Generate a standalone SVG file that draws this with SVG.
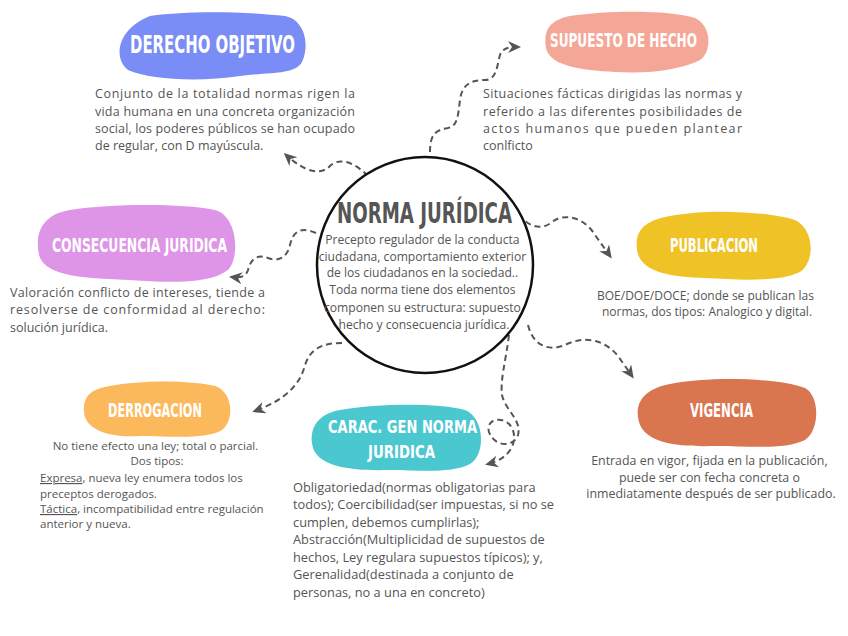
<svg xmlns="http://www.w3.org/2000/svg" width="848" height="636" viewBox="0 0 848 636">
<style>
.title{font-family:"DejaVu Sans Condensed","DejaVu Sans",sans-serif;font-weight:bold;fill:#fff;}
.body{font-family:"Open Sans","Noto Sans",sans-serif;font-size:12.5px;fill:#555;}
.c{text-anchor:middle;}
.conn{fill:none;stroke:#555;stroke-width:2;stroke-dasharray:6 4;marker-end:url(#arr);}
</style>
<defs>
<marker id="arr" markerUnits="userSpaceOnUse" markerWidth="16" markerHeight="14" refX="10" refY="6" orient="auto">
<path d="M0,0 L13,6 L0,12 L4,6 Z" fill="#555"/>
</marker>
</defs>
<rect width="848" height="636" fill="#fff"/>

<g id="connectors">
<path class="conn" d="M 368 176 C 352 160, 338 158, 330 166 C 320 176, 305 172, 286 155"/>
<path class="conn" d="M 430 152 C 430 135, 435 130, 448 128 C 458 126, 458 115, 460 100 C 462 85, 470 80, 485 80 C 497 80, 497 65, 500 55 C 503 48, 508 47, 518 47"/>
<path class="conn" d="M 316 233 C 300 226, 293 232, 290 245 C 287 258, 278 262, 268 258 C 255 253, 250 262, 248 270 C 246 277, 240 278, 232 277"/>
<path class="conn" d="M 518 215 C 528 225, 540 232, 552 222 C 565 212, 585 218, 595 235 L 610 256"/>
<path class="conn" d="M 528 325 C 533 345, 548 352, 565 345 C 585 335, 605 340, 618 356 L 632 376"/>
<path class="conn" d="M 342 343 C 320 343, 310 350, 305 365 C 300 385, 285 400, 255 411"/>
<path class="conn" d="M 509 335 C 506 360, 500 380, 502 395 C 505 410, 522 420, 518 435 C 514 447, 495 448, 489 432 C 485 418, 505 415, 512 428 C 518 440, 512 458, 488 464"/>
</g>

<g id="norma-juridica">
<circle cx="425" cy="265" r="108" fill="#fff" stroke="#111" stroke-width="2.5"/>
<text class="title" x="337" y="223" font-size="29" textLength="175" lengthAdjust="spacingAndGlyphs" style="fill:#555">NORMA JURÍDICA</text>
<text class="body c" style="font-size:12.1px">
<tspan x="424" y="244">Precepto regulador de la conducta</tspan>
<tspan x="424" y="261">ciudadana, comportamiento exterior</tspan>
<tspan x="424" y="277">de los ciudadanos en la sociedad..</tspan>
<tspan x="424" y="294">Toda norma tiene dos elementos</tspan>
<tspan x="424" y="312">componen su estructura: supuesto</tspan>
<tspan x="424" y="329">hecho y consecuencia jurídica.</tspan>
</text>
</g>

<g id="derecho-objetivo">
<path d="M 150 16 C 190 10, 250 12, 285 16 C 305 20, 310 45, 302 62 C 295 75, 270 72, 240 76 C 200 82, 150 80, 128 70 C 114 60, 115 30, 150 16 Z" fill="#7a8cf6"/>
<text class="title" x="130" y="53" font-size="24" textLength="165" lengthAdjust="spacingAndGlyphs">DERECHO OBJETIVO</text>
<text class="body" x="95" y="98" textLength="260">Conjunto de la totalidad normas rigen la</text>
<text class="body" x="95" y="116" textLength="260">vida humana en una concreta organización</text>
<text class="body" x="95" y="133" textLength="260">social, los poderes públicos se han ocupado</text>
<text class="body" x="95" y="150">de regular, con D mayúscula.</text>
</g>

<g id="supuesto-de-hecho">
<path d="M 570 16 C 610 10, 670 10, 695 18 C 712 26, 712 52, 700 60 C 680 70, 650 74, 615 72 C 580 70, 550 66, 546 48 C 543 30, 550 20, 570 16 Z" fill="#f4a796"/>
<text class="title" x="550" y="47" font-size="19" textLength="147" lengthAdjust="spacingAndGlyphs">SUPUESTO DE HECHO</text>
<text class="body" x="483" y="98" textLength="259">Situaciones fácticas dirigidas las normas y</text>
<text class="body" x="483" y="116" textLength="259">referido a las diferentes posibilidades de</text>
<text class="body" x="483" y="133" textLength="259">actos humanos que pueden plantear</text>
<text class="body" x="483" y="150">conlficto</text>
</g>

<g id="consecuencia-juridica">
<path d="M 70 210 C 110 204, 180 203, 215 210 C 238 216, 240 258, 228 270 C 210 284, 170 283, 130 280 C 90 278, 45 278, 39 255 C 34 230, 45 214, 70 210 Z" fill="#de95e8"/>
<text class="title" x="52" y="252" font-size="20" textLength="175" lengthAdjust="spacingAndGlyphs">CONSECUENCIA JURIDICA</text>
<text class="body" x="10" y="297" textLength="255">Valoración conflicto de intereses, tiende a</text>
<text class="body" x="10" y="314" textLength="255">resolverse de conformidad al derecho:</text>
<text class="body" x="10" y="332">solución jurídica.</text>
</g>

<g id="publicacion">
<path d="M 670 216 C 710 208, 770 212, 795 220 C 815 230, 815 262, 800 272 C 780 282, 740 280, 705 278 C 670 277, 640 272, 637 250 C 634 228, 648 220, 670 216 Z" fill="#efc326"/>
<text class="title" x="670" y="252" font-size="20" textLength="88" lengthAdjust="spacingAndGlyphs">PUBLICACION</text>
<text class="body c" style="font-size:12px">
<tspan x="707" y="300">BOE/DOE/DOCE; donde se publican las</tspan>
<tspan x="707" y="316">normas, dos tipos: Analogico y digital.</tspan>
</text>
</g>

<g id="derrogacion">
<path d="M 110 386 C 140 380, 190 380, 215 386 C 233 392, 235 420, 222 430 C 205 440, 170 436, 140 436 C 110 438, 85 430, 84 412 C 83 395, 92 389, 110 386 Z" fill="#fcb95b"/>
<text class="title" x="108" y="417" font-size="20" textLength="94" lengthAdjust="spacingAndGlyphs">DERROGACION</text>
<text class="body c" style="font-size:11.5px">
<tspan x="157" y="450">No tiene efecto una ley; total o parcial.</tspan>
<tspan x="157" y="465">Dos tipos:</tspan>
</text>
<text class="body" style="font-size:11.5px">
<tspan x="40" y="482"><tspan text-decoration="underline">Expresa</tspan>, nueva ley enumera todos los</tspan>
<tspan x="40" y="498">preceptos derogados.</tspan>
<tspan x="40" y="513"><tspan text-decoration="underline">Táctica</tspan>, incompatibilidad entre regulación</tspan>
<tspan x="40" y="528">anterior y nueva.</tspan>
</text>
</g>

<g id="carac-gen-norma-juridica">
<path d="M 340 410 C 380 403, 440 403, 465 410 C 485 418, 486 455, 470 464 C 450 474, 420 470, 390 470 C 355 471, 320 468, 313 448 C 308 428, 318 414, 340 410 Z" fill="#4bc8cf"/>
<text class="title" x="328" y="433" font-size="18" textLength="149" lengthAdjust="spacingAndGlyphs">CARAC. GEN NORMA</text>
<text class="title" x="368" y="458" font-size="18" textLength="67" lengthAdjust="spacingAndGlyphs">JURIDICA</text>
<text class="body" style="font-size:12.8px">
<tspan x="293" y="492">Obligatoriedad(normas obligatorias para</tspan>
<tspan x="293" y="509">todos); Coercibilidad(ser impuestas, si no se</tspan>
<tspan x="293" y="527">cumplen, debemos cumplirlas);</tspan>
<tspan x="293" y="544">Abstracción(Multiplicidad de supuestos de</tspan>
<tspan x="293" y="562">hechos, Ley regulara supuestos típicos); y,</tspan>
<tspan x="293" y="579">Gerenalidad(destinada a conjunto de</tspan>
<tspan x="293" y="597">personas, no a una en concreto)</tspan>
</text>
</g>

<g id="vigencia">
<path d="M 670 384 C 710 376, 780 378, 805 388 C 820 396, 820 430, 805 440 C 785 450, 750 446, 715 446 C 680 447, 645 444, 639 422 C 633 400, 648 388, 670 384 Z" fill="#d97650"/>
<text class="title" x="690" y="417" font-size="20" textLength="63" lengthAdjust="spacingAndGlyphs">VIGENCIA</text>
<text class="body c" style="font-size:12.4px">
<tspan x="711" y="465">Entrada en vigor, fijada en la publicación,</tspan>
<tspan x="711" y="482">puede ser con fecha concreta o</tspan>
<tspan x="711" y="498">inmediatamente después de ser publicado.</tspan>
</text>
</g>
</svg>
